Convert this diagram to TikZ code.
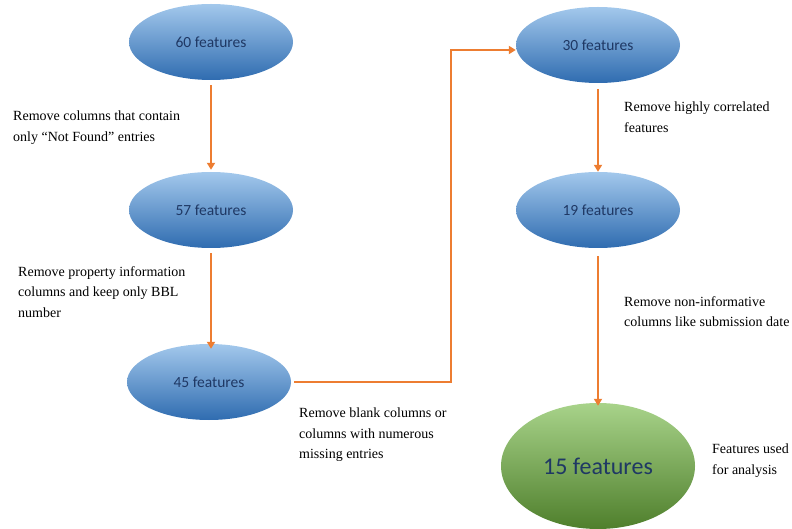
\documentclass[tikz,border=0pt]{standalone}
\usepackage{fontspec}
\setmainfont{Liberation Serif}
\newfontfamily\calib{Carlito}
\usetikzlibrary{shapes.geometric,arrows.meta}
\definecolor{arrowor}{HTML}{ED7D31}
\definecolor{btop}{HTML}{A3C8EC}
\definecolor{bbot}{HTML}{2F6CB0}
\definecolor{gtop}{HTML}{A8D38A}
\definecolor{gbot}{HTML}{4F7F2C}
\definecolor{navy}{HTML}{1F3864}
\tikzset{
  blueell/.style={ellipse, minimum width=164pt, minimum height=76pt, top color=btop, bottom color=bbot, draw=none, font=\calib\fontsize{15.5}{18}\selectfont, text=navy},
  greenell/.style={ellipse, minimum width=194pt, minimum height=126pt, top color=gtop, bottom color=gbot, draw=none, font=\calib\fontsize{24}{28}\selectfont, text=navy},
  flow/.style={draw=arrowor, line width=2.8pt, -{Triangle[length=7pt,width=8pt]}},
  lbl/.style={align=left, anchor=north west, inner sep=0pt, font=\fontsize{14}{20.5}\selectfont}
}
\begin{document}
\begin{tikzpicture}[x=1pt,y=-1pt]
\useasboundingbox (0,0) rectangle (792,529);
\node[blueell] (n60) at (211,42) {60 features};
\node[blueell] (n57) at (211,210) {57 features};
\node[blueell] (n45) at (209,382) {45 features};
\node[blueell] (n30) at (598,45) {30 features};
\node[blueell] (n19) at (598,210) {19 features};
\node[greenell] (n15) at (598,466) {15 features};

\coordinate (c1) at (451,382);
\coordinate (c2) at (451,50);

\draw[flow] ([yshift=-5pt]n60.south) -- ([yshift=2pt]n57.north);
\draw[flow] ([yshift=-5pt]n57.south) -- ([yshift=-5pt]n57.south |- n45.north);
\draw[flow] ([xshift=3pt]n45.east) -- (c1) -- (c2) -- (n30.west |- c2);
\draw[flow] ([yshift=-6pt]n30.south) -- ([yshift=0pt]n19.north);
\draw[flow] ([yshift=-8pt]n19.south) -- ([yshift=-3pt]n15.north);

\node[lbl] (t1) at (13,111) {Remove columns that contain\\only ``Not Found'' entries};
\node[lbl] (t2) at (18,266) {Remove property information\\columns and keep only BBL\\number};
\node[lbl] (t3) at (299,408) {Remove blank columns or\\columns with numerous\\missing entries};
\node[lbl] (t4) at (624,102) {Remove highly correlated\\features};
\node[lbl] (t5) at (624,296) {Remove non-informative\\columns like submission date};
\node[lbl] (t6) at (712,444) {Features used\\for analysis};
\end{tikzpicture}
\end{document}
